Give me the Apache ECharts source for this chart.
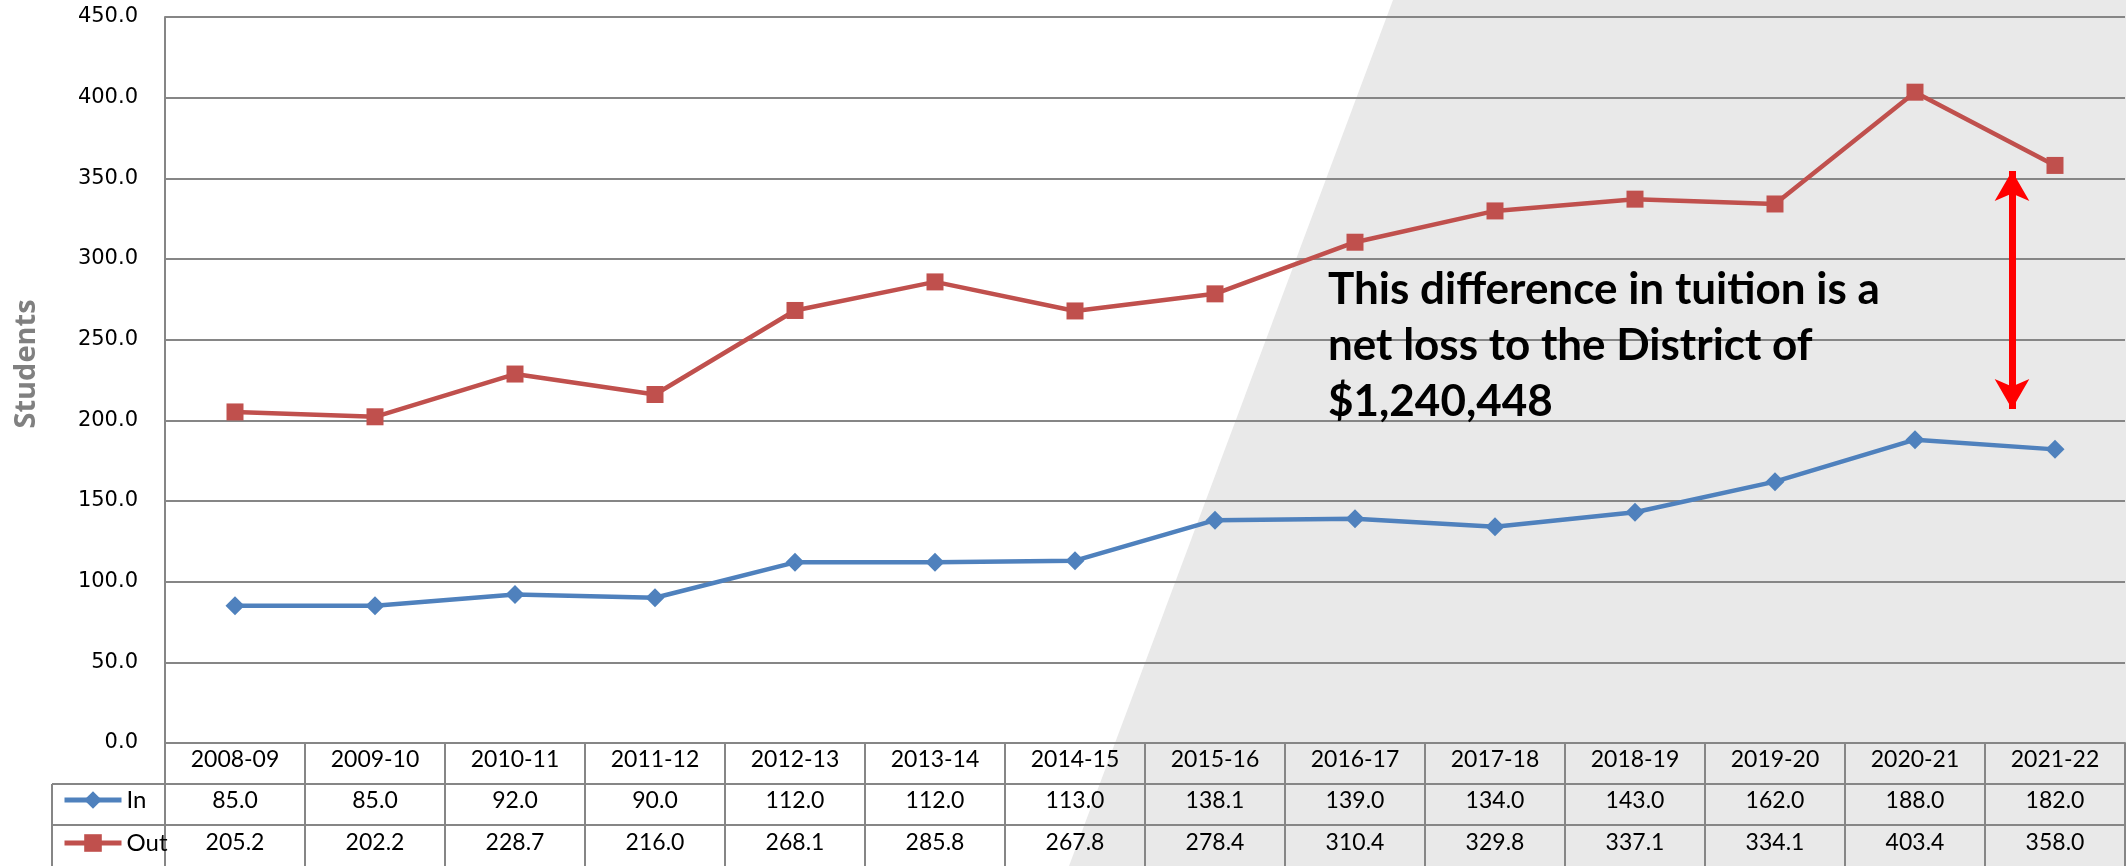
<!DOCTYPE html>
<html>
<head>
<meta charset="utf-8">
<script src="https://cdn.jsdelivr.net/npm/echarts@6/dist/echarts.min.js"></script>
<style>
  html, body { margin: 0; padding: 0; background: #fff; }
  #main { width: 2126px; height: 866px; }
</style>
</head>
<body>
<div id="main"></div>
<script>
var years = ["2008-09", "2009-10", "2010-11", "2011-12", "2012-13", "2013-14", "2014-15",
  "2015-16", "2016-17", "2017-18", "2018-19", "2019-20", "2020-21", "2021-22"]
var inValues = [85.0, 85.0, 92.0, 90.0, 112.0, 112.0, 113.0, 138.1, 139.0, 134.0, 143.0, 162.0, 188.0, 182.0]
var outValues = [205.2, 202.2, 228.7, 216.0, 268.1, 285.8, 267.8, 278.4, 310.4, 329.8, 337.1, 334.1, 403.4, 358.0]
var yTicks = [0, 50, 100, 150, 200, 250, 300, 350, 400, 450]

var chart = echarts.init(document.getElementById("main"))

var gridLine = "#868686"
var tableFont = { fontFamily: "Lato", fontSize: 23, color: "#000" }

// x axes: header row + the two value rows of the data table
function rowAxis(margin, values, showLine) {
  return {
    type: "category",
    data: years,
    position: "bottom",
    boundaryGap: true,
    axisLine: { show: showLine, lineStyle: { color: gridLine, width: 2 } },
    axisTick: { show: showLine, interval: 0, length: 124, lineStyle: { color: gridLine, width: 2 } },
    axisLabel: Object.assign({
      interval: 0,
      margin: margin,
      verticalAlign: "middle",
      formatter: function (v, i) { return values ? values[i].toFixed(1) : v }
    }, tableFont)
  }
}

var option = {
  animation: false,
  backgroundColor: "#fff",
  grid: { left: 165, right: 1, top: 17, bottom: 123 },
  graphic: [
    {
      type: "polygon", z: -10, silent: true,
      shape: { points: [[1393, 0], [2126, 0], [2126, 866], [1069, 866]] },
      style: { fill: "#e9e9e9" }
    },
    { type: "line", shape: { x1: 52, y1: 784, x2: 2126, y2: 784 }, style: { stroke: gridLine, lineWidth: 2 } },
    { type: "line", shape: { x1: 52, y1: 825, x2: 2126, y2: 825 }, style: { stroke: gridLine, lineWidth: 2 } },
    { type: "line", shape: { x1: 52, y1: 784, x2: 52, y2: 866 }, style: { stroke: gridLine, lineWidth: 2 } },
    {
      type: "text", x: 27, y: 364, rotation: Math.PI / 2,
      style: {
        text: "Students", fill: "#808080", font: "bold 29px 'Open Sans'",
        textAlign: "center", textVerticalAlign: "middle"
      }
    },
    {
      type: "text", x: 1328, y: 262, z: 5,
      style: {
        text: "This difference in tuition is a\nnet loss to the District of\n$1,240,448",
        fill: "#000", font: "bold 44px Lato", lineHeight: 56,
        textAlign: "left", textVerticalAlign: "top"
      }
    }
  ],
  legend: {
    orient: "vertical",
    left: 57,
    top: 783,
    itemGap: 19,
    itemWidth: 57,
    itemHeight: 22,
    lineStyle: { width: 5 },
    textStyle: { fontFamily: "Lato", fontSize: 24, color: "#000", lineHeight: 24 },
    data: ["In", "Out"]
  },
  xAxis: [
    rowAxis(17, null, true),
    rowAxis(58, inValues, false),
    rowAxis(100, outValues, false)
  ],
  yAxis: {
    type: "value",
    min: yTicks[0],
    max: yTicks[yTicks.length - 1],
    interval: 50,
    axisLine: { show: true, lineStyle: { color: gridLine, width: 2 } },
    axisTick: { show: false },
    splitLine: { lineStyle: { color: gridLine, width: 2 } },
    axisLabel: {
      margin: 27,
      fontFamily: "DejaVu Sans",
      fontSize: 21,
      color: "#000",
      formatter: function (v) { return v.toFixed(1) }
    }
  },
  series: [
    {
      name: "In",
      type: "line",
      data: inValues,
      symbol: "diamond",
      symbolSize: 19,
      color: "#4f81bd",
      lineStyle: { width: 4.5, color: "#4f81bd" },
      itemStyle: { color: "#4f81bd" }
    },
    {
      name: "Out",
      type: "line",
      data: outValues,
      symbol: "rect",
      symbolSize: 17,
      color: "#c0504d",
      lineStyle: { width: 4.5, color: "#c0504d" },
      itemStyle: { color: "#c0504d" },
      markLine: {
        silent: true,
        symbol: ["arrow", "arrow"],
        symbolSize: [26, 30],
        label: { show: false },
        lineStyle: { color: "#ff0000", width: 7, type: "solid" },
        data: [[{ x: 2012, y: 171 }, { x: 2012, y: 409 }]]
      }
    }
  ]
}

chart.setOption(option)
</script>
</body>
</html>
